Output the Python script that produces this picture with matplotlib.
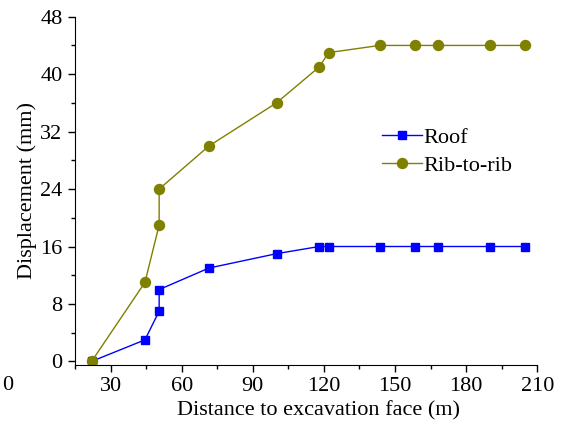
import matplotlib.pyplot as plt
from matplotlib.ticker import MultipleLocator

plt.rcParams['font.family'] = ['Liberation Serif', 'DejaVu Serif']

distance = [22, 44.5, 50.5, 50.5, 71.5, 100, 118, 122, 143.5, 158.5, 168, 190, 205]
roof = [0, 3, 7, 10, 13, 15, 16, 16, 16, 16, 16, 16, 16]
rib_to_rib = [0, 11, 19, 24, 30, 36, 41, 43, 44, 44, 44, 44, 44]

fig = plt.figure(figsize = (5.69, 4.25), dpi = 100)
ax = fig.add_axes([0.1318, 0.1412, 0.8125, 0.8195])

ax.plot(distance, roof, color = '#0000ff', marker = 's', markersize = 6.3, linewidth = 1, label = 'Roof')
ax.plot(distance, rib_to_rib, color = '#808000', marker = 'o', markersize = 7.2, linewidth = 1, label = 'Rib-to-rib')

ax.set_xlim(15, 210)
ax.set_ylim(-0.5, 48)
ax.xaxis.set_minor_locator(MultipleLocator(15))
ax.yaxis.set_major_locator(MultipleLocator(8))
ax.yaxis.set_minor_locator(MultipleLocator(4))
ax.set_xticks([30, 60, 90, 120, 150, 180, 210])

ax.spines['top'].set_visible(False)
ax.spines['right'].set_visible(False)
ax.tick_params(which = 'major', direction = 'out', length = 5, width = 1, labelsize = 16, pad = 4)
ax.tick_params(which = 'minor', direction = 'out', length = 3, width = 1)

ax.set_xlabel('Distance to excavation face (m)', fontsize = 16)
ax.xaxis.set_label_coords(0.526, -0.105)
ax.set_ylabel('Displacement (mm)', fontsize = 16, labelpad = 2)

ax.legend(loc = 'upper left', bbox_to_anchor = (0.665, 0.683), frameon = False, fontsize = 16,
          handlelength = 1.8, handletextpad = 0.05, labelspacing = 0.35, borderaxespad = 0,
          borderpad = 0)

# stray tick label at the far left of the original
fig.text(0.014, 0.094, '0', fontsize = 16, ha = 'center', va = 'center')

plt.savefig('out.png', dpi = 100, facecolor = 'white')
